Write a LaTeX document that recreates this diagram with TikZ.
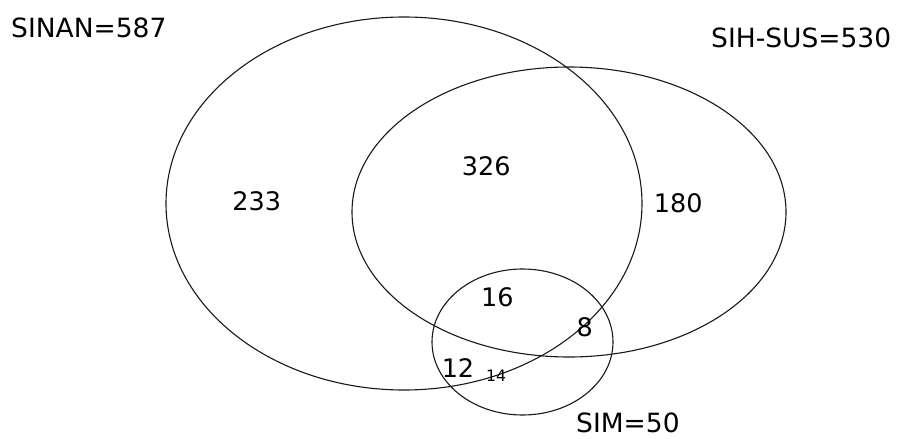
\documentclass[tikz,border=0pt]{standalone}
\usepackage{fontspec}
\setmainfont{DejaVu Sans}
\usetikzlibrary{shapes.geometric}
\begin{document}
\begin{tikzpicture}[x=1pt,y=-1pt,
  setring/.style={ellipse, draw=black!90, line width=1.1pt, inner sep=0pt, fill=none},
  setlabel/.style={anchor=base west, inner sep=0pt, text depth=0pt, font=\fontsize{26.5}{30}\selectfont},
  count/.style={anchor=base, inner sep=0pt, font=\fontsize{25.5}{30}\selectfont},
  smallcount/.style={anchor=base, inner sep=0pt, font=\fontsize{15.7}{18}\selectfont}]
\fill[white] (0,0) rectangle (903,439);
\useasboundingbox (0,0) rectangle (903,439);
\node[setring, minimum width=476pt, minimum height=373pt] (sinan) at (404,203.5) {};
\node[setring, minimum width=434pt, minimum height=290pt] (sih) at (569,212) {};
\node[setring, minimum width=181pt, minimum height=146pt] (sim) at (522.5,342) {};
\node[setlabel] (lsinan) at (11,37) {SINAN=587};
\node[setlabel] (lsih) at (711,47) {SIH-SUS=530};
\node[setlabel] (lsim) at (576,432) {SIM=50};
\node[count] (n233) at (256.7,210) {233};
\node[count] (n326) at (486.2,175) {326};
\node[count] (n180) at (678.3,212.7) {180};
\node[count] (n16) at (497.3,306.7) {16};
\node[count] (n8) at (584.7,336.7) {8};
\node[count] (n12) at (458,377) {12};
\node[smallcount] (n14) at (496,381) {14};
\end{tikzpicture}
\end{document}
